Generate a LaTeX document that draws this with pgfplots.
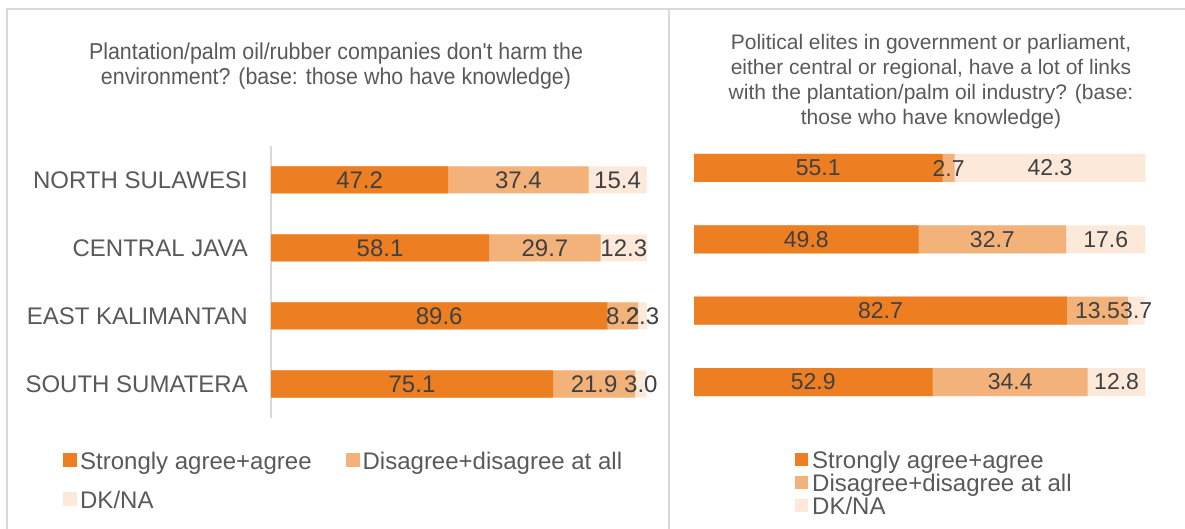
\documentclass[border=0pt]{standalone}
\usepackage{pgfplots}
\pgfplotsset{compat=1.18}
\usepackage{pgfplotstable}
\usepackage{fontspec}
\setmainfont{Liberation Sans}
\newfontfamily\narrowfont[FakeStretch=0.93]{Liberation Sans}
\definecolor{cA}{HTML}{ED7F22}
\definecolor{cB}{HTML}{F4B27B}
\definecolor{cC}{HTML}{FDE9DA}
\definecolor{frm}{HTML}{D9D9D9}
\definecolor{txt}{HTML}{595959}
\definecolor{lbl}{HTML}{404040}

\pgfplotstableread{
y a b c
1 47.2 37.4 15.4
2 58.1 29.7 12.3
3 89.6 8.2 2.3
4 75.1 21.9 3.0
}\leftdata
\pgfplotstableread{
y a b c
1 55.1 2.7 42.3
2 49.8 32.7 17.6
3 82.7 13.5 3.7
4 52.9 34.4 12.8
}\rightdata

\pgfplotsset{
  geomL/.style={at={(271pt,111pt)}, anchor=south west, scale only axis,
    width=375.5pt, height=272pt, xmin=0, xmax=100, ymin=0.5, ymax=4.5, y dir=reverse, clip=false},
  geomR/.style={at={(694pt,111.3pt)}, anchor=south west, scale only axis,
    width=451pt, height=285.4pt, xmin=0, xmax=100, ymin=0.5, ymax=4.5, y dir=reverse, clip=false},
  barp/.style={xbar, bar width=#1, bar shift=0pt, draw=none, forget plot},
  labp/.style={draw=none, mark=none, forget plot, point meta=explicit,
    nodes near coords={\pgfmathprintnumber[fixed,fixed zerofill,precision=1]{\pgfplotspointmeta}},
    every node near coord/.append style={anchor=center, inner sep=0pt, text=lbl, font=\fontsize{#1}{#1}\selectfont}},
  /pgf/number format/assume math mode=true,
}

\begin{document}
\begin{tikzpicture}
\path[use as bounding box] (0pt,0pt) rectangle (1185pt,529pt);
\draw[frm, line width=2pt] (7pt,0pt) -- (7pt,520pt) -- (1185pt,520pt);
\draw[frm, line width=2pt] (669pt,0pt) -- (669pt,520pt);

% titles
\node[anchor=base, text=txt, font=\narrowfont\fontsize{23}{23}\selectfont] at (336pt,469pt) {Plantation/palm oil/rubber companies don't harm the};
\node[anchor=base, text=txt, font=\narrowfont\fontsize{23}{23}\selectfont] at (336pt,444pt) {environment? (base: those who have knowledge)};
\node[anchor=base, text=txt, font=\fontsize{21}{21}\selectfont] at (931pt,479pt) {Political elites in government or parliament,};
\node[anchor=base, text=txt, font=\fontsize{21}{21}\selectfont] at (931pt,454pt) {either central or regional, have a lot of links};
\node[anchor=base, text=txt, font=\fontsize{21}{21}\selectfont] at (931pt,429pt) {with the plantation/palm oil industry? (base:};
\node[anchor=base, text=txt, font=\fontsize{21}{21}\selectfont] at (931pt,404.5pt) {those who have knowledge)};

% ---------- left panel bars ----------
\begin{axis}[geomL,
  axis x line=none, axis y line=left,
  axis line style={draw=frm, line width=1.5pt, -},
  xtick=\empty, ytick={1,2,3,4},
  yticklabels={NORTH SULAWESI,CENTRAL JAVA,EAST KALIMANTAN,SOUTH SUMATERA},
  major tick length=0pt,
  yticklabel style={font=\fontsize{24}{24}\selectfont, text=txt, inner sep=0pt, xshift=-23pt},
  legend columns=2, legend cell align=left,
  legend image code/.code={\fill[#1, draw=none] (0pt,-3pt) rectangle (14pt,11pt);},
  legend style={at={(axis description cs:-0.554,-0.127)}, anchor=north west,
    draw=none, fill=none, inner sep=0pt, text=txt,
    font=\fontsize{24}{24}\selectfont,
    nodes={inner sep=0pt, text height=17pt, text depth=5pt},
    row sep=17pt,
    /tikz/every odd column/.append style={column sep=3pt},
    /tikz/every even column/.append style={column sep=34pt}},
]
\addlegendimage{fill=cA}\addlegendentry{Strongly agree+agree}
\addlegendimage{fill=cB}\addlegendentry{Disagree+disagree at all}
\addlegendimage{fill=cC}\addlegendentry{DK/NA}
\addplot[barp=27pt, fill=cC] table[x expr=\thisrow{a}+\thisrow{b}+\thisrow{c}, y=y]{\leftdata};
\addplot[barp=27pt, fill=cB] table[x expr=\thisrow{a}+\thisrow{b}, y=y]{\leftdata};
\addplot[barp=27pt, fill=cA] table[x=a, y=y]{\leftdata};
\end{axis}
\begin{axis}[geomL, hide axis]
\addplot[labp=24] table[x expr=\thisrow{a}/2, y=y, meta=a]{\leftdata};
\addplot[labp=24] table[x expr=\thisrow{a}+\thisrow{b}/2, y=y, meta=b]{\leftdata};
\addplot[labp=24] table[x expr=\thisrow{a}+\thisrow{b}+\thisrow{c}/2, y=y, meta=c]{\leftdata};
\end{axis}

% ---------- right panel bars ----------
\begin{axis}[geomR, hide axis,
  legend columns=1, legend cell align=left,
  legend image code/.code={\fill[#1, draw=none] (0pt,-3pt) rectangle (13pt,10pt);},
  legend style={at={(axis description cs:0.224,-0.1185)}, anchor=north west,
    draw=none, fill=none, inner sep=0pt, text=txt,
    font=\fontsize{24}{24}\selectfont,
    nodes={inner sep=0pt, text height=17pt, text depth=5pt},
    row sep=1pt,
    /tikz/every odd column/.append style={column sep=4pt}},
]
\addlegendimage{fill=cA}\addlegendentry{Strongly agree+agree}
\addlegendimage{fill=cB}\addlegendentry{Disagree+disagree at all}
\addlegendimage{fill=cC}\addlegendentry{DK/NA}
\addplot[barp=28pt, fill=cC] table[x expr=\thisrow{a}+\thisrow{b}+\thisrow{c}, y=y]{\rightdata};
\addplot[barp=28pt, fill=cB] table[x expr=\thisrow{a}+\thisrow{b}, y=y]{\rightdata};
\addplot[barp=28pt, fill=cA] table[x=a, y=y]{\rightdata};
\end{axis}
\begin{axis}[geomR, hide axis]
\addplot[labp=23] table[x expr=\thisrow{a}/2, y=y, meta=a]{\rightdata};
\addplot[labp=23] table[x expr=\thisrow{a}+\thisrow{b}/2, y=y, meta=b]{\rightdata};
\addplot[labp=23] table[x expr=\thisrow{a}+\thisrow{b}+\thisrow{c}/2, y=y, meta=c]{\rightdata};
\end{axis}
\end{tikzpicture}
\end{document}
